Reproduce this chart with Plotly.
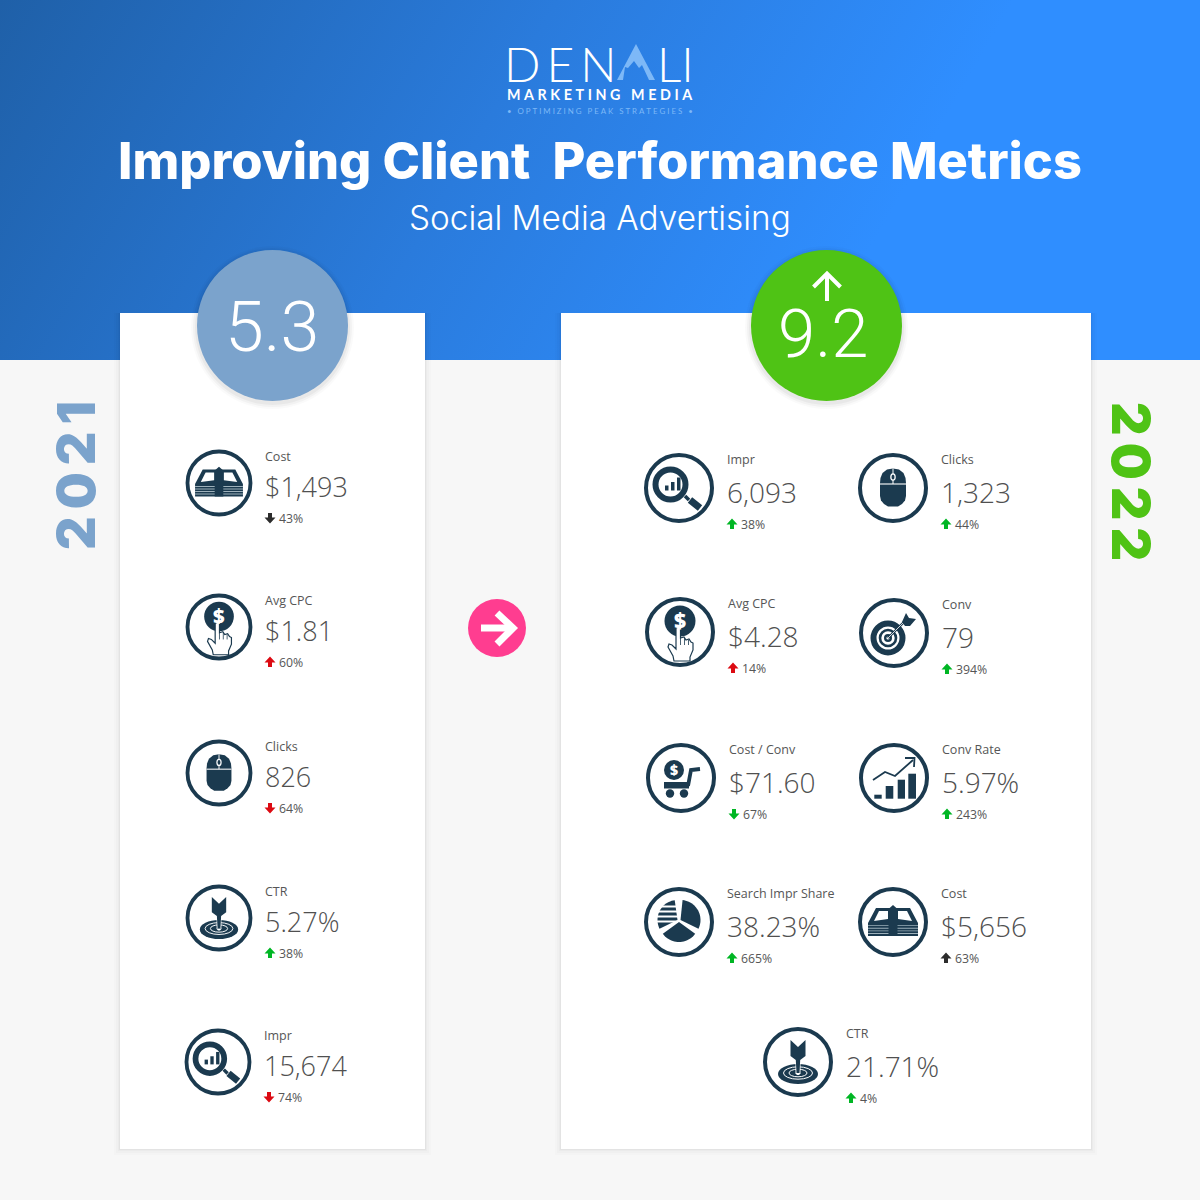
# client performance infographic, 2021 vs 2022
import base64
import math
import plotly.graph_objects as go

# ---- data
title = 'Improving Client  Performance Metrics'
subtitle = 'Social Media Advertising'
years = ['2021', '2022']
scores = ['5.3', '9.2']

labels_2021 = ['Cost', 'Avg CPC', 'Clicks', 'CTR', 'Impr']
values_2021 = ['$1,493', '$1.81', '826', '5.27%', '15,674']
changes_2021 = ['43%', '60%', '64%', '38%', '74%']
dirs_2021 = ['down', 'up', 'down', 'up', 'down']
tones_2021 = ['neutral', 'bad', 'bad', 'good', 'bad']

labels_2022 = ['Impr', 'Clicks', 'Avg CPC', 'Conv', 'Cost / Conv', 'Conv Rate',
               'Search Impr Share', 'Cost', 'CTR']
values_2022 = ['6,093', '1,323', '$4.28', '79', '$71.60', '5.97%', '38.23%', '$5,656', '21.71%']
changes_2022 = ['38%', '44%', '14%', '394%', '67%', '243%', '665%', '63%', '4%']
dirs_2022 = ['up', 'up', 'up', 'up', 'down', 'up', 'up', 'up', 'up']
tones_2022 = ['good', 'good', 'bad', 'good', 'good', 'good', 'good', 'neutral', 'good']

# ---- layout of the tiles: icon centre x, y
pos_2021 = [(219, 483), (219, 627), (219, 773), (219, 918), (218, 1062)]
pos_2022 = [(679, 488), (893, 488), (680, 632), (894, 633), (681, 778),
            (894, 778), (679, 922), (893, 922), (798, 1062)]

DARK = '#1b3a4f'
BLUE = '#7ba3cc'
GREEN = '#4fc315'
TONE = {'good': '#00b624', 'bad': '#dc0a12', 'neutral': '#2c2c2c'}
TXT = '#565656'
FONT = 'Open Sans'

shapes = []
notes = []


def note(x, y, text, size, color=TXT, family=FONT, weight=400, xanchor='left', angle=0):
    notes.append(dict(x=x, y=y, text=text, showarrow=False, xanchor=xanchor, yanchor='middle',
                      textangle=angle,
                      font=dict(family=family, size=size, color=color, weight=weight)))


def rect(x0, y0, x1, y1, fill, opacity=1):
    shapes.append(dict(type='rect', x0=x0, y0=y0, x1=x1, y1=y1, fillcolor=fill,
                       line_width=0, opacity=opacity))


def oval(cx, cy, rx, ry, fill=None, line=None, width=0, opacity=1):
    shapes.append(dict(type='circle', x0=cx - rx, y0=cy - ry, x1=cx + rx, y1=cy + ry,
                       fillcolor=fill if fill else 'rgba(0,0,0,0)',
                       line=dict(color=line if line else 'rgba(0,0,0,0)', width=width),
                       opacity=opacity))


def poly(pts, fill=None, line=None, width=0, close=True):
    d = 'M' + ' L'.join(f'{x:.2f},{y:.2f}' for x, y in pts) + (' Z' if close else '')
    shapes.append(dict(type='path', path=d, fillcolor=fill if fill else 'rgba(0,0,0,0)',
                       line=dict(color=line if line else 'rgba(0,0,0,0)', width=width)))


class Ico:
    # small drawing helper, coordinates relative to icon centre
    def __init__(self, cx, cy, s):
        self.cx, self.cy, self.s = cx, cy, s

    def p(self, pts):
        return [(self.cx + x * self.s, self.cy + y * self.s) for x, y in pts]

    def fill(self, pts, color=DARK):
        poly(self.p(pts), fill=color)

    def stroke(self, pts, width, color=DARK):
        poly(self.p(pts), line=color, width=width * self.s, close=False)

    def disc(self, x, y, rx, ry=None, color=DARK):
        ry = rx if ry is None else ry
        oval(self.cx + x * self.s, self.cy + y * self.s, rx * self.s, ry * self.s, fill=color)

    def ring(self, x, y, rx, ry, width, color=DARK):
        oval(self.cx + x * self.s, self.cy + y * self.s, rx * self.s, ry * self.s,
             line=color, width=width * self.s)

    def box(self, x0, y0, x1, y1, color=DARK):
        rect(self.cx + x0 * self.s, self.cy + y0 * self.s, self.cx + x1 * self.s, self.cy + y1 * self.s, color)

    def dollar(self, x, y, size):
        note(self.cx + x * self.s, self.cy + y * self.s, '$', size * self.s, 'white', FONT, 800, 'center')


def ic_money(i):
    i.fill([(-17, -14), (17, -14), (25, 1), (-25, 1)])
    i.fill([(-14, -11), (-5, -11), (-5, -3), (-19, -1)], 'white')
    i.fill([(14, -11), (5, -11), (5, -3), (19, -1)], 'white')
    i.box(-25, 1, 25, 14)
    for k in range(4):
        i.box(-25, 3.2 + k * 2.6, 25, 4.1 + k * 2.6, '#9db0ba')
    i.fill([(-4.5, -13), (0, -17), (4.5, -13), (4.5, 14), (-4.5, 14)])


def ic_cpc(i):
    i.disc(0, -11, 15.5)
    i.dollar(0, -12, 21)
    hand = [(-4, -4), (-1, -5), (0.5, -4), (0.5, 6), (4, 5), (6, 8), (9, 7), (11, 10), (13, 11),
            (13, 18), (10, 25), (10, 29), (-6, 29), (-7, 24), (-12, 15), (-11, 12), (-8, 13), (-4, 17)]
    poly(i.p(hand), fill='white', line=DARK, width=1.2)
    i.stroke([(0.5, 6), (0.5, 13)], 0.8)
    i.stroke([(4.5, 6), (4.5, 13)], 0.8)
    i.stroke([(8.5, 8), (8.5, 13)], 0.8)


def ic_mouse(i):
    top = [(-13, -5), (-12.5, -10), (-10.5, -15), (-6, -18.5), (0, -19.5), (6, -18.5), (10.5, -15),
           (12.5, -10), (13, -5), (13, 8), (12, 12.5), (9, 16), (5, 18.5), (-5, 18.5), (-9, 16),
           (-12, 12.5), (-13, 8)]
    i.fill(top)
    i.stroke([(-13, -4), (13, -4)], 1.1, 'white')
    i.stroke([(0, -19.5), (0, -4)], 1, 'white')
    i.disc(0, -11, 2.8, 3.8, 'white')
    i.disc(0, -11, 1.5, 2.5)


def ic_ctr(i):
    i.disc(0, 12, 20, 10)
    i.ring(0, 11, 14.5, 6.2, 1, 'white')
    i.ring(0, 11, 9, 3.8, 1, 'white')
    i.fill([(-3, 11), (3, 11), (1, 13), (-1, 13)], 'white')
    i.stroke([(0, -4), (0, 11)], 5, 'white')
    i.fill([(-7.5, -22), (0, -15), (7.5, -22), (7.5, -6), (2.2, -2), (1.5, 11), (-1.5, 11), (-2.2, -2), (-7.5, -6)])


def ic_impr(i):
    i.ring(-8.5, -3.5, 15, 15, 6)
    i.stroke([(6, 8), (10, 12)], 3.5)
    i.stroke([(11, 12), (21, 20)], 7)
    i.box(-14, -2.5, -10.5, 2.5)
    i.box(-8, -6, -4.5, 2.5)
    i.box(-2, -10.5, 1.5, 2.5)


def ic_conv(i):
    i.ring(-6, 5, 14.5, 14.5, 6)
    i.ring(-6, 5, 8, 8, 2.6)
    i.disc(-6, 5, 4)
    i.disc(-6, 5, 1.6, color='white')
    i.stroke([(-6, 5), (12, -13)], 2.4)
    i.stroke([(-6, 5), (12, -13)], 0.8, 'white')
    i.fill([(8, -11), (12, -20), (15, -15), (22, -14), (16, -7), (11, -7)])


def ic_cart(i):
    i.disc(-7, -8, 10)
    i.dollar(-7, -8.5, 14)
    i.stroke([(19, -9), (10, -8), (7, 8)], 3.8)
    i.box(-17, 4, 8, 10.5)
    i.disc(-11, 15.5, 4.2)
    i.disc(3, 15.5, 4.2)


def ic_chart(i):
    i.box(-19.7, 16.7, -12.3, 20.7)
    i.box(-8.3, 8, -0.7, 20.7)
    i.box(3.7, 1.7, 11, 20.7)
    i.box(14.3, -4.3, 22, 20.7)
    i.stroke([(-21, 2), (-9, -6), (1, -2), (19, -18)], 1.8)
    i.stroke([(11, -20), (20.5, -20), (20, -11)], 1.8)


def sector(i, a0, a1, r, x=0, y=0):
    pts = [(x, y)]
    for k in range(25):
        a = math.radians(a0 + (a1 - a0) * k / 24)
        pts.append((x + r * math.cos(a), y + r * math.sin(a)))
    i.fill(pts)


def ic_pie(i):
    sector(i, -84, 26, 20, 1.5, -2)
    sector(i, 36, 144, 20, 0, 0)
    sector(i, 154, 262, 20, -1.5, -2)
    for yy in (-15.5, -10.5, -5.5, -0.5):
        i.stroke([(-24, yy), (-1, yy)], 2, 'white')


ICONS = {'Cost': ic_money, 'Avg CPC': ic_cpc, 'Clicks': ic_mouse, 'CTR': ic_ctr, 'Impr': ic_impr,
         'Conv': ic_conv, 'Cost / Conv': ic_cart, 'Conv Rate': ic_chart, 'Search Impr Share': ic_pie}


def tile(pos, label, value, change, direction, tone, r):
    cx, cy = pos
    s = r / 35
    left = r < 35
    oval(cx, cy, r - 2, r - 2, fill='white', line=DARK, width=4 * s)
    ICONS[label](Ico(cx, cy, s))
    dx = 44 if left else 46
    note(cx + dx, cy - (27 if left else 28.5), label, 12.5)
    note(cx + dx, cy + (3.5 if left else 4), value, 27 if left else 28, '#505050', FONT, 300)
    ya = cy + (35 if left else 36)
    sign = 1 if direction == 'up' else -1
    arrow = [(0, -5.5), (5.5, 0.5), (2, 0.5), (2, 5), (-2, 5), (-2, 0.5), (-5.5, 0.5)]
    poly([(cx + dx + 7 + x, ya + sign * y) for x, y in arrow], fill=TONE[tone])
    note(cx + dx + 14, ya, change, 12.3)


def spaced(text, sep='\u200a'):
    return sep.join(text)


# ---- blue header, gradient as svg image
svg = ('<svg xmlns="http://www.w3.org/2000/svg" width="1200" height="360">'
       '<defs><linearGradient id="g" gradientUnits="userSpaceOnUse" x1="0" y1="0" x2="760" y2="440">'
       '<stop offset="0" stop-color="#1f60a8"/><stop offset="0.55" stop-color="#2a7bdc"/>'
       '<stop offset="1" stop-color="#2f8eff"/></linearGradient></defs>'
       '<rect width="1200" height="360" fill="url(#g)"/></svg>')
header = 'data:image/svg+xml;base64,' + base64.b64encode(svg.encode()).decode()

# ---- cards with soft shadow
for x0, x1 in [(120, 425), (561, 1091)]:
    for k, op in [(6, 0.01), (4, 0.015), (2, 0.02), (1, 0.03)]:
        rect(x0 - k, 313, x1 + k, 1149 + k, '#000000', op)
    rect(x0, 313, x1, 1149, 'white')

# ---- score circles
for (cx, cy), col in [((272.5, 325.5), BLUE), ((826.5, 325.5), GREEN)]:
    for k, op in [(6, 0.02), (4, 0.03), (2, 0.04)]:
        oval(cx, cy + 2, 75.5 + k, 75.5 + k, fill='#000000', opacity=op)
    oval(cx, cy, 75.5, 75.5, fill=col)
note(272, 327, scores[0], 70, 'white', 'Roboto', 300, 'center')
note(823, 334, scores[1], 67, 'white', 'Roboto', 300, 'center')
poly([(827, 301), (827, 274)], line='white', width=4, close=False)
poly([(813.5, 287), (827, 273.5), (840.5, 287)], line='white', width=4, close=False)

# ---- arrow between the cards
oval(497, 628, 29, 29, fill='#ff3d90')
poly([(481, 628), (512, 628)], line='white', width=7, close=False)
poly([(497, 613), (513, 628), (497, 644)], line='white', width=7, close=False)

# ---- tiles
for i, p in enumerate(pos_2021):
    tile(p, labels_2021[i], values_2021[i], changes_2021[i], dirs_2021[i], tones_2021[i], 33.5)
for i, p in enumerate(pos_2022):
    tile(p, labels_2022[i], values_2022[i], changes_2022[i], dirs_2022[i], tones_2022[i], 35)

# ---- logo
note(502, 63, spaced('DEN', '\u2009'), 48, 'white', 'Lato', 300)
note(655, 63, 'LI', 48, 'white', 'Lato', 300)
poly([(636, 44), (655, 80), (649, 80), (642, 65), (639, 68), (634, 61), (628, 68), (625, 67),
      (623, 80), (617, 80)], fill='#7db8f7')
note(600, 94, spaced('MARKETING MEDIA', '\u2009\u2009'), 14.3, 'white', 'Lato', 700, 'center')
note(600, 111, spaced('• OPTIMIZING PEAK STRATEGIES •', '\u2009\u2009'), 7.9, '#7db8f7', 'Lato', 400, 'center')

# ---- headings and years
note(600, 160, title, 50.5, 'white', 'Inter', 800, 'center')
note(600, 218, subtitle, 33.3, 'white', 'Inter', 300, 'center')
note(76, 476, spaced(years[0], '\u2009'), 52, BLUE, 'Inter', 900, 'center', -90)
note(1131, 481, spaced(years[1], '\u2009'), 52, GREEN, 'Inter', 900, 'center', 90)

fig = go.Figure()
fig.update_layout(
    width=1200, height=1200, margin=dict(l=0, r=0, t=0, b=0),
    paper_bgcolor='#f7f7f7', plot_bgcolor='#f7f7f7', showlegend=False,
    xaxis=dict(range=[0, 1200], visible=False, fixedrange=True),
    yaxis=dict(range=[1200, 0], visible=False, fixedrange=True),
    shapes=shapes, annotations=notes,
    images=[dict(source=header, xref='x', yref='y', x=0, y=0, sizex=1200, sizey=360,
                 sizing='stretch', xanchor='left', yanchor='top', layer='below')],
)
fig.write_html('out.html', config={'displayModeBar': False},
               post_script="document.body.style.margin='0';document.documentElement.style.overflow='hidden';")
